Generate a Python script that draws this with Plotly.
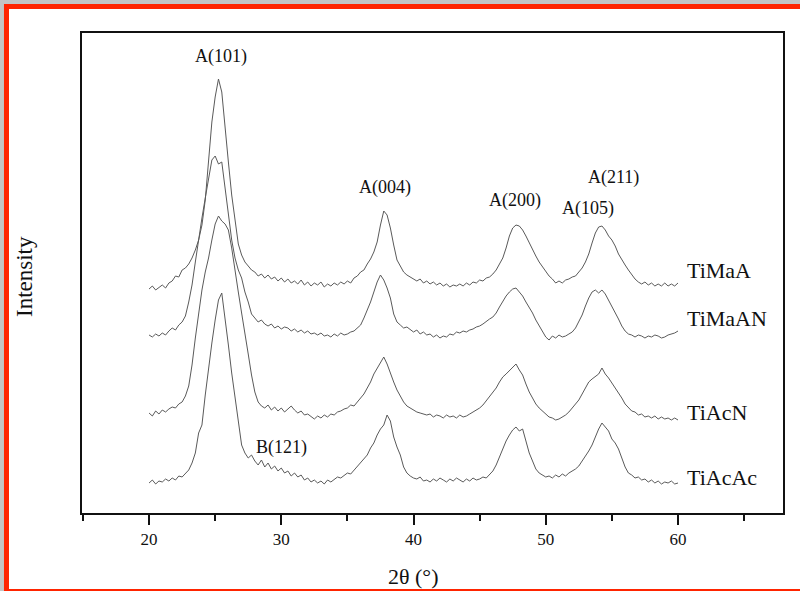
import plotly.graph_objects as go

# 2-theta grid (degrees), 0.25 step from 20 to 60
two_theta = [20 + 0.25 * i for i in range(161)]

sample_names = ["TiMaA", "TiMaAN", "TiAcN", "TiAcAc"]
offsets = [223, 173, 93, 28]

timaa = [1, 4, 0, 3, 5, 2, 7, 9, 14, 13, 20, 22, 26, 32, 40, 50, 65, 90, 130, 168,
         193, 211, 198, 160, 128, 95, 70, 46, 35, 28, 24, 20, 18, 14, 16, 12, 15, 11, 13, 9,
         12, 8, 11, 7, 9, 6, 10, 5, 8, 4, 7, 5, 8, 3, 6, 4, 7, 5, 8, 6,
         9, 7, 12, 14, 18, 20, 26, 31, 38, 48, 65, 79, 75, 62, 45, 30, 24, 18, 15, 13,
         11, 9, 11, 7, 9, 6, 8, 5, 7, 4, 6, 3, 5, 4, 6, 4, 7, 5, 8, 7,
         10, 9, 12, 13, 16, 20, 26, 32, 42, 54, 62, 65, 64, 60, 54, 47, 40, 34, 28, 23,
         19, 14, 11, 7, 9, 7, 10, 11, 13, 14, 18, 22, 28, 36, 47, 57, 63, 64, 60, 54,
         50, 44, 36, 30, 25, 20, 15, 11, 8, 6, 8, 5, 7, 4, 6, 4, 7, 4, 6, 4, 7]

timaan = [5, 3, 6, 4, 7, 5, 9, 12, 10, 15, 18, 24, 38, 55, 78, 102, 122, 142, 160, 180,
          184, 176, 178, 152, 128, 100, 82, 70, 62, 48, 38, 26, 22, 18, 20, 16, 14, 16, 12, 14,
          11, 13, 12, 9, 11, 8, 10, 7, 9, 6, 7, 5, 7, 4, 5, 3, 6, 4, 7, 5,
          6, 8, 9, 12, 15, 22, 30, 38, 48, 58, 65, 60, 52, 42, 26, 18, 15, 12, 13, 10,
          8, 10, 6, 8, 5, 6, 3, 5, 2, 4, 3, 6, 5, 8, 7, 9, 8, 10, 11, 13,
          14, 16, 19, 21, 23, 27, 33, 39, 44, 48, 51, 52, 48, 44, 38, 33, 27, 20, 14, 8,
          3, 0, 4, 2, 5, 3, 4, 6, 8, 12, 18, 25, 34, 42, 48, 50, 47, 50, 46, 40,
          33, 27, 21, 14, 9, 6, 5, 3, 5, 4, 2, 4, 3, 5, 4, 2, 3, 5, 6, 7, 9]

tiacn = [7, 4, 9, 6, 10, 8, 11, 13, 12, 16, 18, 24, 34, 55, 82, 108, 130, 148, 162, 180,
         196, 204, 199, 196, 190, 172, 152, 128, 107, 88, 66, 45, 28, 18, 14, 12, 15, 10, 13, 9,
         12, 8, 11, 14, 10, 7, 9, 5, 6, 3, 1, 4, 2, 5, 3, 6, 5, 8, 9, 11,
         12, 15, 14, 18, 22, 26, 32, 38, 46, 52, 58, 63, 56, 46, 38, 30, 24, 18, 14, 12,
         10, 8, 7, 6, 5, 6, 3, 5, 4, 2, 5, 3, 4, 2, 5, 3, 4, 6, 8, 10,
         12, 15, 19, 23, 27, 32, 38, 43, 46, 49, 52, 56, 50, 45, 36, 28, 22, 16, 12, 9,
         6, 3, 2, 0, 1, 3, 5, 8, 12, 16, 20, 26, 32, 38, 41, 44, 46, 52, 46, 42,
         37, 33, 28, 22, 16, 12, 9, 8, 5, 6, 3, 4, 2, 4, 1, 3, 1, 2, 0, 2, 0]

tiacac = [2, 5, 1, 4, 3, 6, 4, 7, 5, 9, 8, 12, 15, 22, 32, 52, 60, 90, 118, 142,
          165, 185, 192, 168, 140, 112, 88, 62, 40, 32, 27, 30, 24, 20, 25, 18, 22, 16, 19, 14,
          17, 12, 14, 9, 12, 8, 10, 5, 7, 3, 5, 2, 4, 1, 5, 3, 6, 8, 7, 10,
          12, 11, 15, 18, 22, 26, 30, 37, 42, 50, 56, 60, 70, 64, 48, 38, 30, 18, 12, 9,
          7, 6, 8, 4, 5, 3, 6, 4, 7, 5, 3, 6, 4, 7, 5, 3, 6, 4, 7, 5,
          6, 8, 7, 10, 14, 20, 28, 36, 44, 50, 55, 58, 54, 56, 44, 32, 24, 16, 12, 10,
          8, 9, 7, 10, 8, 11, 9, 12, 14, 16, 19, 24, 28, 34, 40, 48, 56, 62, 58, 54,
          46, 42, 36, 26, 18, 12, 10, 7, 8, 5, 6, 3, 5, 2, 4, 1, 3, 2, 4, 1, 2]

series = [timaa, timaan, tiacn, tiacac]

# peak labels: (text, 2theta, height)
peak_labels = ["A(101)", "A(004)", "A(200)", "A(211)", "A(105)", "B(121)"]
peak_x = [25.45, 37.85, 47.7, 55.15, 53.2, 30.0]
peak_y = [457, 326, 313, 336, 305, 66]

sample_label_x = 60.5
sample_label_y = [243, 195, 101, 36]

FONT = "Liberation Serif, Times New Roman, serif"

fig = go.Figure()
for name, vals, off in zip(sample_names, series, offsets):
    fig.add_trace(go.Scatter(
        x=two_theta, y=[v + off for v in vals], mode="lines", name=name,
        line=dict(color="#5a5a5a", width=1), showlegend=False,
    ))

annotations = []
for t, x, y in zip(peak_labels, peak_x, peak_y):
    annotations.append(dict(x=x, y=y, xref="x", yref="y", text=t, showarrow=False,
                            xanchor="center", yanchor="middle",
                            font=dict(family=FONT, size=18, color="#111")))
for t, y in zip(sample_names, sample_label_y):
    annotations.append(dict(x=sample_label_x, y=y, xref="x", yref="y", text=t, showarrow=False,
                            xanchor="left", yanchor="middle",
                            font=dict(family=FONT, size=22, color="#111")))
annotations.append(dict(x=-0.0813, y=0.4917, xref="paper", yref="paper", text="Intensity",
                        textangle=-90, showarrow=False, xanchor="center", yanchor="middle",
                        font=dict(family=FONT, size=23, color="#111")))
annotations.append(dict(x=0.4736, y=-0.1333, xref="paper", yref="paper", text="2θ (°)",
                        showarrow=False, xanchor="center", yanchor="middle",
                        font=dict(family=FONT, size=22, color="#111")))

shapes = [
    dict(type="rect", xref="paper", yref="paper", x0=-0.1113, x1=1.04, y0=-0.2, y1=1.0604,
         fillcolor="#ff2400", line=dict(width=0), layer="below"),
    dict(type="rect", xref="paper", yref="paper", x0=-0.10414, x1=1.04, y0=-0.15833, y1=1.05,
         fillcolor="white", line=dict(width=0), layer="below"),
]

fig.update_layout(
    width=800, height=591,
    margin=dict(l=82, r=17, t=33, b=78),
    paper_bgcolor="#c4c4c4", plot_bgcolor="rgba(0,0,0,0)",
    annotations=annotations, shapes=shapes,
    font=dict(family=FONT, color="#111"),
)
fig.update_xaxes(
    range=[14.93, 67.94], showgrid=False, zeroline=False,
    showline=True, mirror=True, linecolor="#111", linewidth=1.5,
    ticks="outside", ticklen=10, tickwidth=1.5, tickcolor="#111",
    tickvals=[20, 30, 40, 50, 60], tickfont=dict(family=FONT, size=17, color="#111"),
    minor=dict(tickvals=[15, 25, 35, 45, 55, 65], ticks="outside", ticklen=6, tickwidth=1.5, tickcolor="#111"),
)
fig.update_yaxes(
    range=[0, 480], showgrid=False, zeroline=False, showticklabels=False,
    showline=True, mirror=True, linecolor="#111", linewidth=1.5, ticks="",
)

fig.write_html("out.html", config={"displayModeBar": False},
               post_script="document.body.style.margin='0';document.body.style.padding='0';")
